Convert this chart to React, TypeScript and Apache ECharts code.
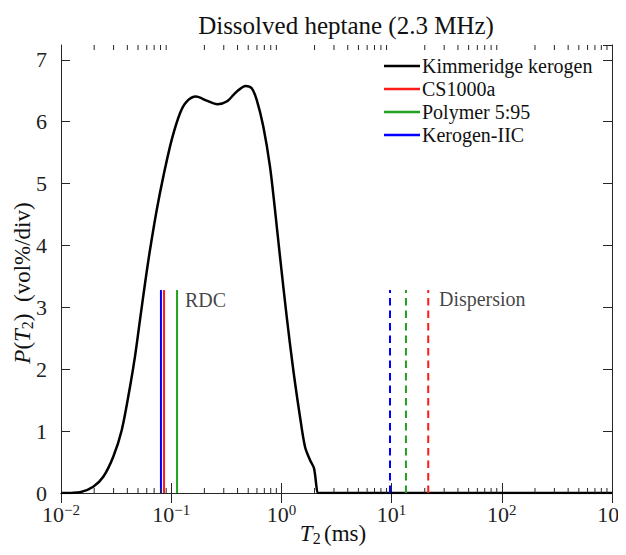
import React, { useEffect, useRef } from "react";
import * as echarts from "echarts";

// Kimmeridge kerogen T2 distribution (T2 in ms, P in vol%/div)
const kimT2 = [0.01, 0.0125, 0.0149, 0.0196, 0.0242, 0.0298, 0.0356, 0.0423, 0.0469, 0.0521, 0.0579, 0.0642, 0.0739, 0.0848, 0.101, 0.1202, 0.1382, 0.1679, 0.2099, 0.262, 0.3189, 0.393, 0.4742, 0.5375, 0.597, 0.6851, 0.788, 0.8747, 0.9712, 1.117, 1.282, 1.475, 1.637, 1.818, 1.976, 2.161, 2.3, 5, 50, 1000];
const kimP = [0, 0.002, 0.011, 0.102, 0.263, 0.587, 1.018, 1.718, 2.203, 2.797, 3.39, 3.928, 4.575, 5.113, 5.706, 6.138, 6.326, 6.406, 6.342, 6.283, 6.326, 6.487, 6.579, 6.542, 6.353, 5.922, 5.275, 4.575, 3.82, 2.85, 1.988, 1.233, 0.748, 0.533, 0.399, 0, 0, 0, 0, 0];

// Reference lines: names, colours, RDC (solid) and dispersion (dashed) T2 values
const refNames = ["CS1000a", "Polymer 5:95", "Kerogen-IIC"];
const refColors = ["#ff1a1a", "#22a022", "#0000ff"];
const rdcT2 = [0.0861, 0.113, 0.0807];
const dispT2 = [21.5, 13.5, 9.67];
const refLineTop = 3.28;

// Text annotations in data coordinates
const annoText = ["RDC", "Dispersion"];
const annoX = [0.1334, 26.9];
const annoY = [3.12, 3.14];

const xMin = 0.01;
const xMax = 1000;
const yMin = 0;
const yMax = 7.24;
const minorTicks: number[] = [];
for (let e = -2; e < 3; e++) {
  for (let m = 2; m <= 9; m++) minorTicks.push(m * Math.pow(10, e));
}

const FONT = "'Liberation Serif', 'DejaVu Serif', serif";

export default function App() {
  const ref = useRef<HTMLDivElement>(null);
  useEffect(() => {
    if (!ref.current) return;
    const chart = echarts.init(ref.current, null, { renderer: "svg" });
    const axisLineStyle = { color: "#262626", width: 1 };
    const xLabelRich = {
      b: { fontFamily: FONT, fontSize: 22, color: "#222" },
      sup: { fontFamily: FONT, fontSize: 15, color: "#222", verticalAlign: "top", padding: [0, 0, 10, 0] },
    };
    const nameRich = {
      i: { fontFamily: FONT, fontStyle: "italic", fontSize: 23, lineHeight: 26, fill: "#111", color: "#111" },
      s: { fontFamily: FONT, fontSize: 16, lineHeight: 16, fill: "#111", color: "#111", verticalAlign: "bottom" },
      n: { fontFamily: FONT, fontSize: 23, lineHeight: 26, fill: "#111", color: "#111" },
    };
    const series: any[] = [
      {
        name: "Kimmeridge kerogen",
        type: "line",
        data: kimT2.map((t, i) => [t, kimP[i]]),
        symbol: "none",
        smooth: 0.3,
        lineStyle: { color: "#000", width: 2.5, join: "round" },
        itemStyle: { color: "#000" },
        z: 3,
      },
    ];
    refNames.forEach((n, i) => {
      series.push({
        name: n,
        type: "line",
        data: [[rdcT2[i], 0], [rdcT2[i], refLineTop]],
        symbol: "none",
        lineStyle: { color: refColors[i], width: 2, type: "solid" },
        itemStyle: { color: refColors[i] },
        z: 4,
      });
      series.push({
        name: n,
        type: "line",
        data: [[dispT2[i], 0], [dispT2[i], refLineTop]],
        symbol: "none",
        lineStyle: { color: refColors[i], width: 2, type: [7.5, 5] },
        itemStyle: { color: refColors[i] },
        z: 4,
      });
    });
    series.push({
      type: "scatter",
      silent: true,
      symbolSize: 0,
      data: annoText.map((t, i) => ({ value: [annoX[i], annoY[i]], name: t })),
      label: {
        show: true,
        position: "right",
        distance: 0,
        formatter: (p: any) => p.name,
        fontFamily: FONT,
        fontSize: 20,
        color: "#111",
      },
    });
    series.push({
      type: "custom",
      silent: true,
      clip: false,
      data: minorTicks.map((v) => [v, 1]),
      encode: { x: 0, y: 1 },
      renderItem: (params: any, api: any) => {
        const v = api.value(0);
        const b = api.coord([v, yMin]);
        const t = api.coord([v, yMax]);
        const st = { stroke: "#262626", lineWidth: 1, fill: null };
        return {
          type: "group",
          children: [
            { type: "line", shape: { x1: b[0], y1: b[1], x2: b[0], y2: b[1] - 5 }, style: st },
            { type: "line", shape: { x1: t[0], y1: t[1], x2: t[0], y2: t[1] + 5 }, style: st },
          ],
        };
      },
      z: 5,
    });

    chart.setOption({
      animation: false,
      backgroundColor: "#fff",
      title: {
        text: "Dissolved heptane (2.3 MHz)",
        left: 341,
        textAlign: "center",
        top: 8,
        textStyle: { fontFamily: FONT, fontSize: 25, fontWeight: "normal", color: "#111" },
      },
      legend: {
        orient: "vertical",
        left: 384,
        top: 56,
        padding: 0,
        itemGap: 3,
        itemWidth: 36,
        itemHeight: 2.5,
        icon: "rect",
        textStyle: { fontFamily: FONT, fontSize: 20, color: "#111", padding: [0, 0, 0, -3] },
        data: [
          { name: "Kimmeridge kerogen", itemStyle: { color: "#000" } },
          ...refNames.map((n, i) => ({ name: n, itemStyle: { color: refColors[i] } })),
        ],
      },
      graphic: [
        {
          type: "text",
          x: 333,
          y: 533,
          silent: true,
          style: {
            text: "{i|T}{s|2} {n|(ms)}",
            rich: nameRich,
            align: "center",
            verticalAlign: "middle",
            fill: "#111",
          },
        },
        {
          type: "text",
          x: 22,
          y: 283,
          rotation: Math.PI / 2,
          silent: true,
          style: {
            text: "{i|P}{n|(}{i|T}{s|2}{n|)  (vol%/div)}",
            rich: nameRich,
            align: "center",
            verticalAlign: "middle",
            fill: "#111",
          },
        },
      ],
      grid: { left: 61, right: 14, top: 45, bottom: 62, containLabel: false, outerBoundsMode: "none" },
      xAxis: [
        {
          type: "log",
          logBase: 10,
          min: xMin,
          max: xMax,
          position: "bottom",
          axisLine: { show: true, lineStyle: axisLineStyle },
          axisTick: { show: true, inside: true, length: 10, lineStyle: axisLineStyle },
          axisLabel: {
            margin: 9,
            formatter: (v: number) => {
              const e = Math.round(Math.log10(v));
              return `{b|10}{sup|${e < 0 ? "\u2212" + -e : e}}`;
            },
            rich: xLabelRich,
          },
          splitLine: { show: false },
        },
        {
          type: "log",
          logBase: 10,
          min: xMin,
          max: xMax,
          position: "top",
          axisLine: { show: true, lineStyle: axisLineStyle },
          axisTick: { show: true, inside: true, length: 10, lineStyle: axisLineStyle },
          axisLabel: { show: false },
          splitLine: { show: false },
        },
      ],
      yAxis: [
        {
          type: "value",
          min: yMin,
          max: yMax,
          interval: 1,
          position: "left",
          axisLine: { show: true, lineStyle: axisLineStyle },
          axisTick: { show: true, inside: true, length: 9, lineStyle: axisLineStyle },
          axisLabel: { margin: 14, fontFamily: FONT, fontSize: 22, color: "#222" },
          splitLine: { show: false },
        },
        {
          type: "value",
          min: yMin,
          max: yMax,
          interval: 1,
          position: "right",
          axisLine: { show: true, lineStyle: axisLineStyle },
          axisTick: { show: true, inside: true, length: 9, lineStyle: axisLineStyle },
          axisLabel: { show: false },
          splitLine: { show: false },
        },
      ],
      series,
    });
    return () => chart.dispose();
  }, []);
  return <div ref={ref} style={{ width: 626, height: 555, margin: -8 }} />;
}
